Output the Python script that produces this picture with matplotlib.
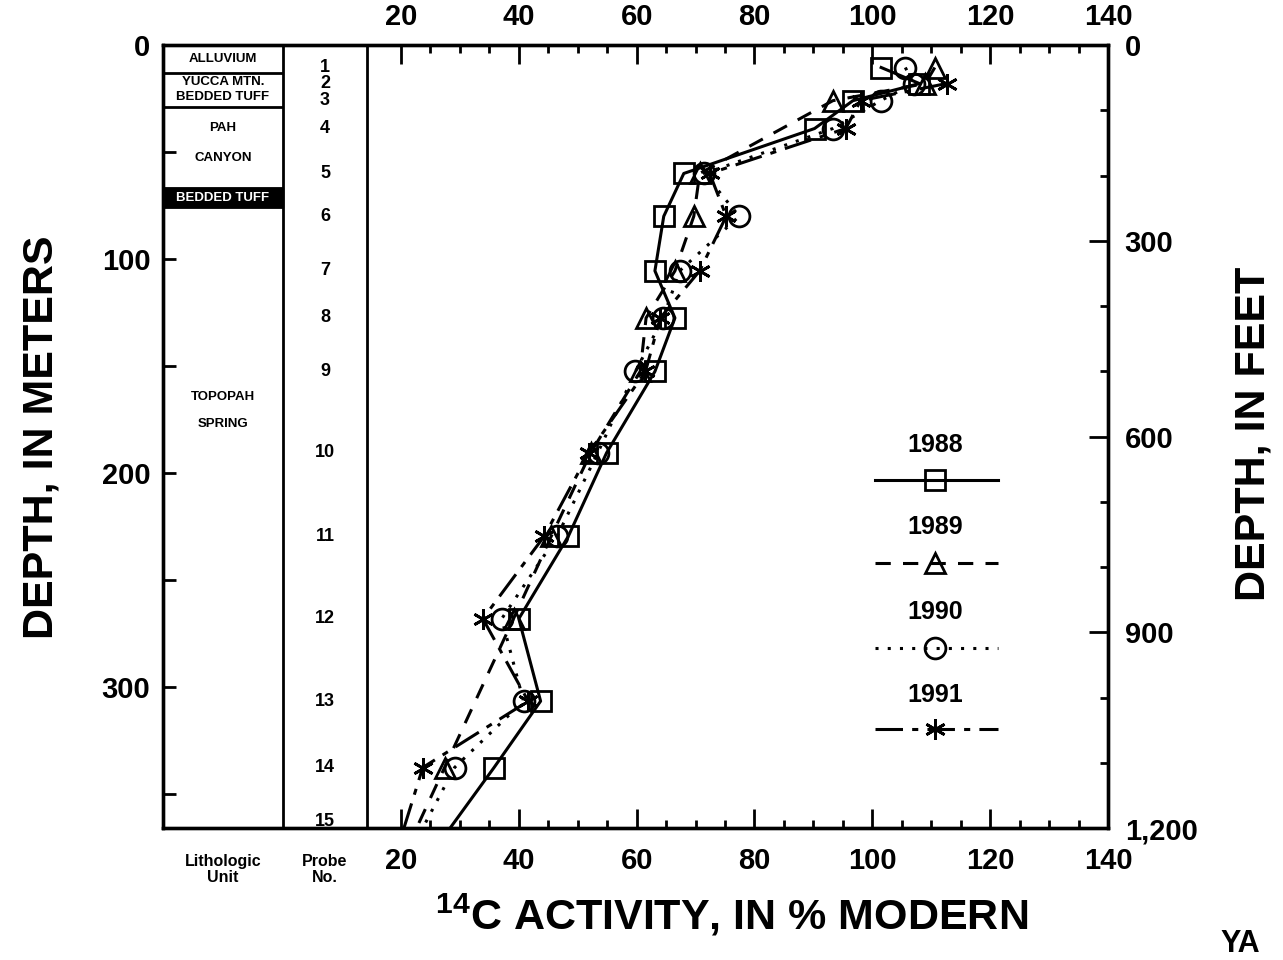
import numpy as np
import matplotlib
matplotlib.use('Agg')
import matplotlib.pyplot as plt
from matplotlib.lines import Line2D

plt.rcParams['font.family'] = ['Liberation Sans', 'DejaVu Sans']
plt.rcParams['mathtext.fontset'] = 'custom'
plt.rcParams['mathtext.rm'] = 'Liberation Sans:bold'

nan = np.nan

# probe numbers and their depths, in meters
probe_no = ['1', '2', '3', '4', '5', '6', '7', '8', '9', '10', '11', '12', '13', '14', '15']
probe_depth = [10.5, 18, 26, 39, 60, 80, 105.5, 127.5, 152.5, 190.5, 229.5, 268, 306.5, 337.5, 362.5]

# 14C activity (% modern) per probe; nan = no sample
act_1988 = [101.5, 108.0, 96.7, 90.2, 68.0, 64.6, 63.1, 66.5, 63.1, 54.9, 48.4, 40.0, 43.7, 35.8, nan]
act_1989 = [110.6, 109.0, 93.3, nan, 70.7, 69.7, 66.5, 61.6, 60.6, 52.2, 45.5, 39.1, nan, 27.4, nan]
act_1990 = [105.6, 107.0, 101.4, 93.3, 71.5, 77.4, 67.3, 64.5, 59.8, 53.4, 46.5, 37.1, 40.8, 29.1, nan]
act_1991 = [nan, 112.6, 98.0, 95.5, 72.4, 75.2, 70.7, 64.0, 61.5, 51.9, 44.3, 33.9, 41.6, 23.7, nan]

# where each curve leaves the bottom of the plot
below_depth = 372
below_act = [26.7, 21.6, 22.5, 19.8]

years = ['1988', '1989', '1990', '1991']

# lithologic unit boundaries, in meters
litho_bounds = [0, 13.1, 29.0, 66.8, 75.7]

fig = plt.figure(figsize=(12.83, 9.6), dpi=100)
ax = fig.add_axes([0.127, 0.1375, 0.7366, 0.8156])

styles = [
    dict(ls='-', marker='s'),
    dict(ls=(0, (5, 4)), marker='^'),
    dict(ls=(0, (1, 3)), marker='o'),
    dict(ls=(0, (9, 3, 2, 3)), marker=(6, 2, 0)),
]

for vals, tail, st in zip([act_1988, act_1989, act_1990, act_1991], below_act, styles):
    d = np.array(probe_depth + [below_depth])
    v = np.array(vals + [tail])
    m = ~np.isnan(v)
    n = int(m.sum())
    ax.plot(v[m], d[m], color='k', lw=2.2, ls=st['ls'], marker=st['marker'],
            ms=15, mfc='none', mec='k', mew=2, markevery=list(range(n - 1)))

ax.set_xlim(-20.4, 140)
ax.set_ylim(365.76, 0)

# columns on the left
ax.axvline(0, color='k', lw=2)
ax.axvline(14.2, color='k', lw=2)
ax.hlines(litho_bounds[1:], -20.4, 0, color='k', lw=2)
ax.fill_between([-20.4, 0], litho_bounds[3], litho_bounds[4], color='k')

lk = dict(ha='center', va='center', fontsize=9.5, fontweight='bold')
ax.text(-10.2, 6.5, 'ALLUVIUM', **lk)
ax.text(-10.2, 17.2, 'YUCCA MTN.', **lk)
ax.text(-10.2, 24.3, 'BEDDED TUFF', **lk)
ax.text(-10.2, 38.8, 'PAH', **lk)
ax.text(-10.2, 52.8, 'CANYON', **lk)
ax.text(-10.2, 71.3, 'BEDDED TUFF', color='white', **lk)
ax.text(-10.2, 164.4, 'TOPOPAH', **lk)
ax.text(-10.2, 177, 'SPRING', **lk)

for p, dp in zip(probe_no, probe_depth):
    ax.text(7.1, dp, p, ha='center', va='center', fontsize=13, fontweight='bold')

ax.text(-10.2, 385, 'Lithologic\nUnit', ha='center', va='center', fontsize=11.5,
        fontweight='bold', linespacing=1.1, clip_on=False)
ax.text(7.1, 385, 'Probe\nNo.', ha='center', va='center', fontsize=11.5,
        fontweight='bold', linespacing=1.1, clip_on=False)

# ticks
ax.set_xticks(np.arange(20, 141, 20))
ax.set_xticks(np.arange(20, 141, 5), minor=True)
ax.set_yticks([0, 100, 200, 300])
ax.set_yticks([50, 150, 250, 350], minor=True)
ax.tick_params(axis='x', which='both', direction='in', top=True, labeltop=True,
               width=2, labelsize=21)
ax.tick_params(axis='x', which='major', length=14, pad=10)
ax.tick_params(axis='x', which='minor', length=6)
ax.tick_params(axis='y', which='both', direction='in', length=9, width=2,
               labelsize=21, pad=9)
for lab in ax.get_yticklabels():
    lab.set_fontweight('bold')
for s in ax.spines.values():
    s.set_linewidth(2.4)

ax2 = ax.twinx()
ax2.set_ylim(1200, 0)
ax2.set_yticks([0, 300, 600, 900, 1200])
ax2.set_yticklabels(['0', '300', '600', '900', '1,200'], fontweight='bold')
ax2.set_yticks(np.arange(0, 1201, 100), minor=True)
ax2.tick_params(axis='y', which='both', direction='in', width=2, labelsize=21, pad=12)
ax2.tick_params(axis='y', which='major', length=14)
ax2.tick_params(axis='y', which='minor', length=6)
for s in ax2.spines.values():
    s.set_linewidth(2.4)

# bottom tick labels sit a bit lower than the top ones
for t in ax.xaxis.get_major_ticks():
    t.label1.set_y(-0.007)
    t.label1.set_va('top')
    t.label1.set_fontweight('bold')
    t.label2.set_fontweight('bold')

# legend
leg_x = [0.753, 0.817, 0.884]
leg_text_y = [0.489, 0.384, 0.276, 0.170]
leg_line_y = [0.444, 0.338, 0.230, 0.126]
for yr, st, ty, ly in zip(years, styles, leg_text_y, leg_line_y):
    ax.text(leg_x[1], ty, yr, transform=ax.transAxes, ha='center', va='center',
            fontsize=18, fontweight='bold')
    ax.add_line(Line2D(leg_x, [ly] * 3, transform=ax.transAxes, color='k', lw=2.2,
                       ls=st['ls'], marker=st['marker'], ms=15, mfc='none',
                       mec='k', mew=2, markevery=[1]))

fig.text(0.032, 0.545, 'DEPTH, IN METERS', rotation=90, ha='center', va='center',
         fontsize=31, fontweight='bold')
fig.text(0.977, 0.548, 'DEPTH, IN FEET', rotation=90, ha='center', va='center',
         fontsize=31, fontweight='bold')
fig.text(0.570, 0.047, r'$\mathregular{^{14}}$C ACTIVITY, IN % MODERN',
         ha='center', va='center', fontsize=31, fontweight='bold')
fig.text(0.951, 0.032, 'YA', ha='left', va='top', fontsize=22, fontweight='bold')

fig.savefig('out.png', dpi=100)
